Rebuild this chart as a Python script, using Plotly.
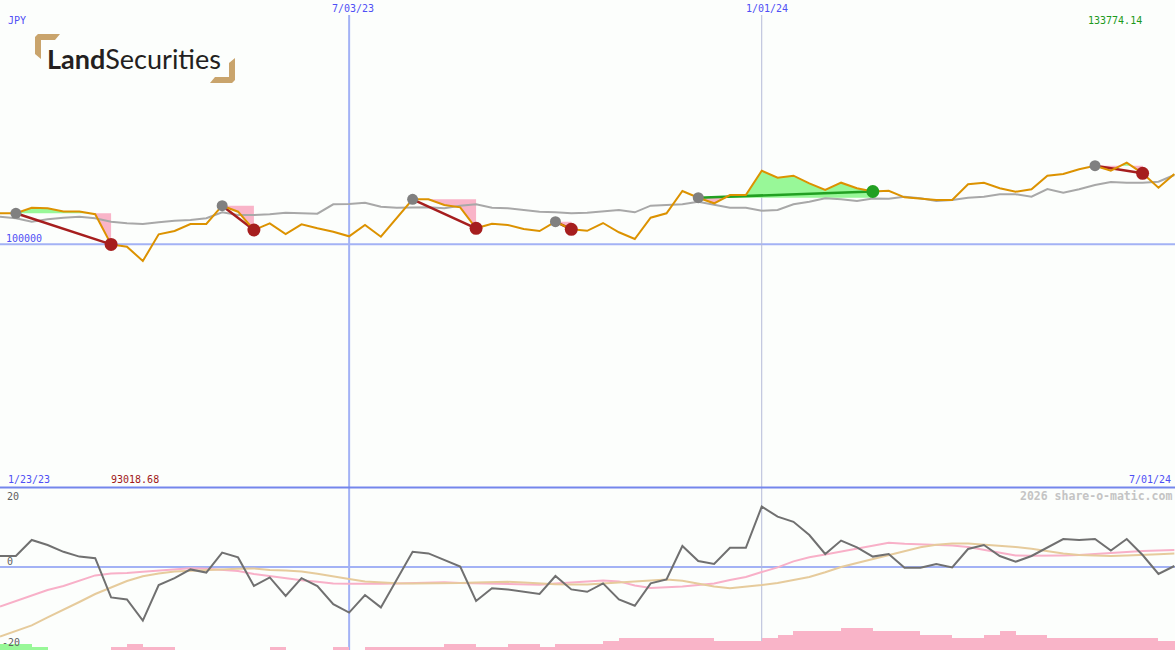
import pandas as pd
import plotly.graph_objects as go

# ---------------- data ----------------
dates = pd.date_range("2023-01-30", periods=75, freq="7D")

price = [112800, 112800, 115100, 114900, 113500, 113500, 112400, 99900, 98950, 93018.68,
         104090, 105460, 108360, 108360, 115950, 113460, 105870, 108650, 104210, 108230,
         106580, 105170, 103260, 107940, 103090, 110720, 118600, 118600, 116240, 115280,
         106580, 108480, 107940, 106290, 105460, 109310, 106160, 105540, 108770, 104920,
         102140, 110970, 112800, 122040, 119260, 116940, 120380, 120380, 130460, 127550,
         128380, 125230, 122450, 125480, 123160, 121830, 122160, 119430, 118850, 118310,
         118310, 124820, 125480, 123160, 121750, 122740, 128380, 129090, 131040, 132530,
         130460, 133774.14, 129380, 123410, 129090]

avg = [111390, 110720, 109310, 110310, 110970, 111390, 110720, 109310, 108650, 108360,
       109060, 109730, 110020, 110720, 113210, 112090, 112090, 112380, 113040, 112800,
       112630, 116530, 116650, 117190, 115530, 115120, 115120, 115280, 114870, 115950,
       116530, 115120, 114870, 114160, 113460, 113210, 112800, 113040, 113460, 114160,
       113210, 115950, 116240, 116530, 117600, 116240, 115120, 115120, 113870, 114160,
       116530, 117600, 119010, 118600, 117890, 118930, 118850, 119680, 119010, 117890,
       118310, 119260, 119680, 120670, 120670, 119680, 122870, 121340, 122740, 124530,
       125770, 125480, 125480, 125900, 128670]

trade_entry = [1, 14, 26, 35, 44, 69]
trade_exit = [7, 16, 30, 36, 55, 72]

osc = [2.75, 2.75, 6.75, 5.5, 3.8, 2.6, 2.2, -7.6, -8.1, -13.4,
       -4.5, -2.8, -0.6, -1.4, 3.6, 2.4, -4.75, -2.6, -7.25, -2.8,
       -4.75, -9.3, -11.4, -7.0, -10.1, -3.1, 3.8, 3.4, 1.75, 0.1,
       -8.5, -5.3, -5.6, -6.2, -6.75, -2.25, -5.6, -6.2, -4.1, -8.1,
       -9.7, -4.1, -3.1, 5.25, 1.5, 0.75, 4.8, 4.8, 15.1, 12.6,
       11.3, 8.0, 3.25, 6.6, 4.9, 2.6, 3.25, -0.2, -0.2, 0.75,
       -0.1, 4.5, 5.5, 2.75, 1.3, 2.75, 4.9, 7.0, 6.75, 7.0,
       4.1, 7.0, 3.0, -1.75, 0.25]

osc_fast = [-9.9, -8.5, -7.1, -5.75, -4.75, -3.5, -2.1, -1.6, -1.5, -1.2,
            -0.9, -0.6, -0.3, -0.45, -0.65, -1.0, -1.75, -2.3, -2.8, -3.3,
            -3.7, -4.1, -4.2, -4.25, -4.2, -4.1, -4.0, -3.9, -3.8, -3.97,
            -4.1, -4.1, -4.2, -4.35, -4.45, -4.1, -3.9, -3.6, -3.4, -3.6,
            -4.6, -5.25, -5.1, -4.9, -4.5, -4.1, -3.25, -2.5, -1.25, -0.1,
            1.4, 2.45, 3.1, 3.8, 4.55, 5.2, 6.05, 5.8, 5.65, 5.55,
            5.4, 5.0, 4.35, 3.55, 2.9, 2.8, 2.8, 2.9, 3.0, 3.2,
            3.45, 3.75, 4.0, 4.1, 4.25]

osc_slow = [-17.4, -16.0, -14.6, -12.6, -10.75, -8.75, -6.75, -5.05, -3.5, -2.3,
            -1.6, -1.1, -0.9, -0.7, -0.6, -0.45, -0.35, -0.75, -0.9, -1.1,
            -1.7, -2.4, -3.0, -3.6, -3.85, -4.05, -4.1, -4.1, -4.1, -4.0,
            -3.85, -3.75, -3.7, -3.9, -4.15, -4.3, -4.4, -4.4, -4.1, -3.85,
            -3.65, -3.45, -3.1, -3.45, -4.25, -4.9, -5.3, -4.95, -4.5, -4.0,
            -3.25, -2.5, -1.3, 0.0, 1.0, 2.0, 3.0, 4.1, 4.95, 5.55,
            5.9, 5.85, 5.6, 5.4, 5.0, 4.55, 3.9, 3.4, 3.0, 2.85,
            2.75, 2.9, 3.0, 3.2, 3.4]

bars_green = [1.5, 1.5, 0.67] + [0] * 72
bars_pink = [0, 0, 0, 0, 0, 0, 0, 0.67, 1.5, 0.67,
             0.67, 0, 0, 0, 0, 0, 0, 0.67, 0, 0,
             0, 0.67, 0, 0.67, 0.67, 0.67, 0.67, 0.67, 1.5, 1.5,
             0.67, 0.67, 1.5, 1.5, 0.67, 1.5, 1.5, 1.5, 2.25, 2.9,
             2.9, 2.9, 2.9, 2.9, 2.9, 2.25, 2.25, 2.25, 2.9, 3.75,
             4.75, 4.75, 4.75, 5.6, 5.6, 4.75, 4.75, 4.75, 3.75, 3.75,
             2.9, 2.9, 3.75, 4.75, 3.75, 3.75, 2.9, 2.9, 2.9, 2.9,
             2.9, 2.9, 2.9, 2.25, 2.25]

# ---------------- style ----------------
W, H = 1175, 650
BG = "#fcfefc"
BLUE_LINE = "#a3b2f5"
ORANGE = "#dc9200"
GRAY_MA = "#a8a8a8"
PINK = "#f9b4c8"
GREEN_FILL = "#98f898"
RED = "#a61e1e"
GREEN = "#22a022"
BAR_BASE = -20.75


def px(x, y):
    return x / W, 1 - y / H


def tdate(t):
    return dates[0] + pd.Timedelta(days=7 * t)


fig = go.Figure()

# trade fills (green where price above entry level, pink where below)
for a, b in zip(trade_entry, trade_exit):
    level = price[a]
    pts = []
    for k in range(a, b):
        p0, p1 = price[k], price[k + 1]
        pts.append((k, p0))
        if (p0 - level) * (p1 - level) < 0:
            t = (level - p0) / (p1 - p0)
            pts.append((k + t, level))
    pts.append((b, price[b]))
    for above, col in ((True, GREEN_FILL), (False, PINK)):
        xs = [tdate(t) for t, _ in pts] + [tdate(b), tdate(a)]
        ys = [(max(v, level) if above else min(v, level)) for _, v in pts] + [level, level]
        fig.add_trace(go.Scatter(x=xs, y=ys, mode="lines", fill="toself", fillcolor=col,
                                 line=dict(width=0), hoverinfo="skip", xaxis="x", yaxis="y"))

# moving average
fig.add_trace(go.Scatter(x=dates, y=avg, mode="lines", line=dict(color=GRAY_MA, width=2),
                         xaxis="x", yaxis="y"))

# trade connecting lines
for a, b in zip(trade_entry, trade_exit):
    col = GREEN if price[b] > price[a] else RED
    fig.add_trace(go.Scatter(x=[dates[a], dates[b]], y=[price[a], price[b]], mode="lines",
                             line=dict(color=col, width=2.5), xaxis="x", yaxis="y"))

# price
fig.add_trace(go.Scatter(x=dates, y=price, mode="lines", line=dict(color=ORANGE, width=2),
                         xaxis="x", yaxis="y"))

# markers
fig.add_trace(go.Scatter(x=[dates[a] for a in trade_entry], y=[price[a] for a in trade_entry],
                         mode="markers", marker=dict(color="#808080", size=11),
                         xaxis="x", yaxis="y"))
fig.add_trace(go.Scatter(x=[dates[b] for b in trade_exit], y=[price[b] for b in trade_exit],
                         mode="markers",
                         marker=dict(color=[GREEN if price[b] > price[a] else RED
                                            for a, b in zip(trade_entry, trade_exit)], size=13),
                         xaxis="x", yaxis="y"))

# lower panel bars
week_ms = 7 * 24 * 3600 * 1000
fig.add_trace(go.Bar(x=dates, y=bars_pink, base=BAR_BASE, marker=dict(color=PINK, line=dict(width=0)),
                     width=week_ms, offset=0, xaxis="x2", yaxis="y2"))
fig.add_trace(go.Bar(x=dates, y=bars_green, base=BAR_BASE, marker=dict(color=GREEN_FILL, line=dict(width=0)),
                     width=week_ms, offset=0, xaxis="x2", yaxis="y2"))

# lower panel lines
fig.add_trace(go.Scatter(x=dates, y=osc_fast, mode="lines", line=dict(color="#f8b0c8", width=2),
                         xaxis="x2", yaxis="y2"))
fig.add_trace(go.Scatter(x=dates, y=osc_slow, mode="lines", line=dict(color="#e6cb9c", width=2),
                         xaxis="x2", yaxis="y2"))
fig.add_trace(go.Scatter(x=dates, y=osc, mode="lines", line=dict(color="#707070", width=2),
                         xaxis="x2", yaxis="y2"))

x_range = [dates[0], pd.Timestamp("2024-07-01 07:00")]

shapes = [
    dict(type="line", xref="paper", yref="y", x0=0, x1=1, y0=100000, y1=100000,
         line=dict(color=BLUE_LINE, width=2), layer="below"),
    dict(type="line", xref="paper", yref="y2", x0=0, x1=1, y0=0, y1=0,
         line=dict(color=BLUE_LINE, width=2), layer="below"),
    dict(type="line", xref="x", yref="paper", x0="2023-07-03", x1="2023-07-03", y0=0, y1=px(0, 15)[1],
         line=dict(color=BLUE_LINE, width=2), layer="below"),
    dict(type="line", xref="x", yref="paper", x0="2024-01-01", x1="2024-01-01", y0=0, y1=px(0, 15)[1],
         line=dict(color="#b4bad8", width=1), layer="below"),
    dict(type="line", xref="paper", yref="paper", x0=0, x1=1, y0=px(0, 487.5)[1], y1=px(0, 487.5)[1],
         line=dict(color="#7486ec", width=2), layer="above"),
]

# logo brackets
def path(points):
    s = ""
    for n, (x, y) in enumerate(points):
        fx, fy = px(x, y)
        s += ("M" if n == 0 else "L") + f"{fx:.5f},{fy:.5f} "
    return s + "Z"

TAN = "#c9a46c"
shapes.append(dict(type="path", xref="paper", yref="paper", line=dict(width=0), fillcolor=TAN,
                   path=path([(38, 34), (60, 34), (55, 40), (41, 40), (41, 59), (35, 54), (35, 37)])))
shapes.append(dict(type="path", xref="paper", yref="paper", line=dict(width=0), fillcolor=TAN,
                   path=path([(235, 58), (235, 80), (232, 83), (210, 83), (215, 77), (229, 77), (229, 63)])))

MONO = "DejaVu Sans Mono"


def label(text, x, y, color, anchor="left", size=10, family=MONO):
    fx, fy = px(x, y)
    return dict(text=text, x=fx, y=fy, xref="paper", yref="paper", xanchor=anchor, yanchor="middle",
                showarrow=False, font=dict(family=family, size=size, color=color), borderpad=0)


TXT_BLUE = "#4f4ff5"
annotations = [
    label("JPY", 7, 21, TXT_BLUE),
    label("7/03/23", 353, 9, TXT_BLUE, "center"),
    label("1/01/24", 767, 9, TXT_BLUE, "center"),
    label("133774.14", 1143, 20, "#1c9a1c", "right"),
    label("100000", 5, 238, TXT_BLUE),
    label("1/23/23", 7, 479, TXT_BLUE),
    label("93018.68", 110, 479, "#a01818"),
    label("7/01/24", 1172, 479, TXT_BLUE, "right"),
    label("20", 6, 496, "#606060"),
    label("0", 6, 561, "#606060"),
    label("-20", 1, 642, "#606060"),
    label("<b>2026 share-o-matic.com</b>", 1173, 496, "#c4c4c4", "right", size=11.5),
    label("<b>Land</b>Securities", 46, 59, "#231f20", "left", size=27,
          family="Lato, sans-serif"),
]

fig.update_layout(
    width=W, height=H, margin=dict(l=0, r=0, t=0, b=0),
    paper_bgcolor=BG, plot_bgcolor=BG, showlegend=False, bargap=0,
    hovermode=False,
    xaxis=dict(domain=[0, 1], range=x_range, visible=False, anchor="y", fixedrange=True),
    yaxis=dict(domain=[1 - 487 / H, 1], range=[-682, 201229], visible=False, fixedrange=True),
    xaxis2=dict(domain=[0, 1], range=x_range, visible=False, anchor="y2", matches="x"),
    yaxis2=dict(domain=[0, 162 / H], range=[BAR_BASE, 19.75], visible=False, fixedrange=True),
    shapes=shapes, annotations=annotations,
)

fig.write_html("out.html",
               config={"displayModeBar": False, "staticPlot": True},
               post_script="document.body.style.margin='0';document.body.style.padding='0';"
                           "document.body.style.overflow='hidden';")
